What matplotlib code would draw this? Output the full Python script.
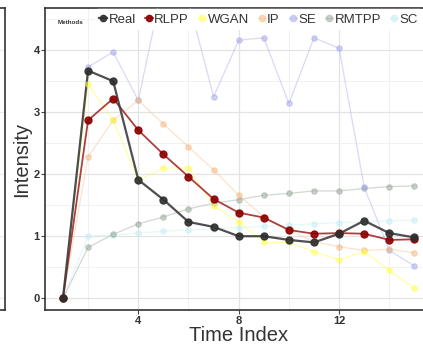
import numpy as np
import matplotlib
matplotlib.use("Agg")
import matplotlib.pyplot as plt
from matplotlib.lines import Line2D

plt.rcParams['font.family'] = ['Liberation Sans', 'DejaVu Sans']

# data
time_index = [1, 2, 3, 4, 5, 6, 7, 8, 9, 10, 11, 12, 13, 14, 15]
real = [0, 3.67, 3.50, 1.91, 1.59, 1.23, 1.15, 1.00, 1.00, 0.94, 0.90, 1.04, 1.25, 1.05, 0.98]
rlpp = [0, 2.87, 3.22, 2.71, 2.32, 1.96, 1.60, 1.38, 1.30, 1.10, 1.04, 1.05, 1.04, 0.94, 0.95]
wgan = [0, 3.45, 2.87, 1.90, 2.10, 2.10, 1.49, 1.23, 0.90, 0.90, 0.75, 0.62, 0.75, 0.45, 0.16]
ip = [0, 2.28, 2.87, 3.19, 2.81, 2.44, 2.07, 1.66, 1.31, 1.10, 0.91, 0.83, 0.77, 0.79, 0.73]
se = [0, 3.73, 3.97, 3.19, 5.10, 4.80, 3.25, 4.16, 4.20, 3.14, 4.20, 4.03, 1.79, 0.77, 0.52]
rmtpp = [0, 0.82, 1.03, 1.20, 1.31, 1.44, 1.53, 1.59, 1.66, 1.69, 1.73, 1.73, 1.77, 1.80, 1.81]
sc = [0, 1.00, 1.02, 1.05, 1.08, 1.10, 1.12, 1.14, 1.16, 1.18, 1.20, 1.22, 1.23, 1.25, 1.26]

methods = ["Real", "RLPP", "WGAN", "IP", "SE", "RMTPP", "SC"]

# (line colour, marker colour, line width, marker size, alpha)
styles = {
    "Real":  ("#3c3c3c", "#2e2e2e", 1.6, 5.0, 0.9),
    "RLPP":  ("#a52a2a", "#8b0000", 1.3, 5.0, 0.9),
    "WGAN":  ("#ffff55", "#ffff44", 0.9, 3.8, 0.5),
    "IP":    ("#f7c79a", "#f5b880", 0.9, 3.8, 0.5),
    "SE":    ("#b4b4f2", "#a8a8ee", 0.9, 3.8, 0.5),
    "RMTPP": ("#a5b3a5", "#9aa89a", 0.9, 3.8, 0.5),
    "SC":    ("#cdf1f5", "#c4eef3", 0.9, 3.8, 0.5),
}
series = {"Real": real, "RLPP": rlpp, "WGAN": wgan, "IP": ip,
          "SE": se, "RMTPP": rmtpp, "SC": sc}

fig = plt.figure(figsize=(4.23, 3.45), dpi=100)

# right edge of the neighbouring panel
prev = fig.add_axes([-0.3, 35 / 345, 0.3 + 5 / 423, 302 / 345])
prev.set_xlim(0, 1)
prev.set_ylim(-0.19, 4.68)
prev.set_yticks([0, 1, 2, 3, 4])
prev.grid(axis="y", color="#ececec", lw=0.8)
prev.tick_params(left=False, bottom=False, labelleft=False, labelbottom=False)
for s in prev.spines.values():
    s.set_color("#333333")
    s.set_linewidth(1.2)

ax = fig.add_axes([45.4 / 423, 35 / 345, 386.6 / 423, 302 / 345])

# draw the faint series first, main ones on top
for name in ["SC", "RMTPP", "SE", "IP", "WGAN", "RLPP", "Real"]:
    lc, mc, lw, ms, a = styles[name]
    ax.plot(time_index, series[name], color=lc, lw=lw, alpha=a, zorder=3)
    ax.plot(time_index, series[name], ls="none", marker="o", ms=ms,
            color=mc, alpha=a, zorder=4)

ax.set_xlim(0.3, 15.7)
ax.set_ylim(-0.19, 4.68)
ax.set_xticks([4, 8, 12])
ax.set_xticks([2, 6, 10, 14], minor=True)
ax.set_yticks([0, 1, 2, 3, 4])
ax.set_yticks([0.5, 1.5, 2.5, 3.5, 4.5], minor=True)
ax.grid(which="major", color="#e3e3e3", lw=0.9, zorder=0)
ax.grid(which="minor", color="#f1f1f1", lw=0.7, zorder=0)
ax.set_axisbelow(True)
ax.tick_params(which="major", length=3, width=0.8, color="#444444",
               labelsize=8, labelcolor="#333333", pad=1)
ax.tick_params(which="minor", length=0)
for lab in ax.get_yticklabels() + ax.get_xticklabels():
    lab.set_fontweight("bold")
for s in ax.spines.values():
    s.set_color("#333333")
    s.set_linewidth(1.2)

ax.set_xlabel("Time Index", fontsize=14.5, color="#333333", labelpad=0)
ax.set_ylabel("Intensity", fontsize=14.5, color="#333333", labelpad=2)

# legend across the top
handles = []
for name in methods:
    lc, mc, lw, ms, a = styles[name]
    handles.append(Line2D([0], [0], color=lc, lw=lw, alpha=a, marker="o",
                          ms=4.5, markerfacecolor=mc, markeredgecolor=mc))
leg = ax.legend(handles, methods, ncol=7, loc="upper left",
                bbox_to_anchor=(0.125, 1.0),
                frameon=True, framealpha=1, edgecolor="white",
                fontsize=9.5, handlelength=0.6, handletextpad=0.12,
                columnspacing=0.68, borderpad=0.3, borderaxespad=0.1)
leg.set_zorder(10)
for t in leg.get_texts():
    t.set_color("#333333")
ax.text(12 / 386.6, 0.952, "Methods", transform=ax.transAxes, fontsize=4.5,
        color="#333333", va="center", ha="left", zorder=11,
        fontweight="bold")

plt.savefig("out.png", dpi=100)
